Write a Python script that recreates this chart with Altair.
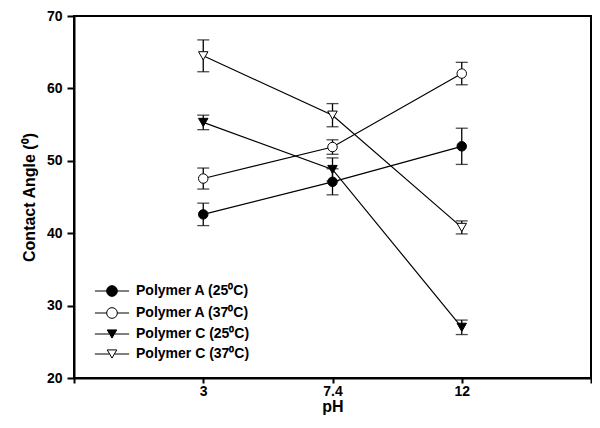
import altair as alt
import pandas as pd

# ---- data ----
ph_labels = ["3", "7.4", "12"]
series_names = ["Polymer A (25⁰C)", "Polymer A (37⁰C)", "Polymer C (25⁰C)", "Polymer C (37⁰C)"]
polymer_a_25 = [42.6, 47.1, 52.0]
polymer_a_25_err = [1.55, 1.8, 2.5]
polymer_a_37 = [47.55, 51.9, 62.05]
polymer_a_37_err = [1.45, 1.0, 1.55]
polymer_c_25 = [55.3, 48.8, 27.0]
polymer_c_25_err = [1.0, 1.6, 1.0]
polymer_c_37 = [64.5, 56.3, 40.8]
polymer_c_37_err = [2.2, 1.6, 0.9]
marker_shapes = ["circle", "circle", "triangle-down", "triangle-down"]
marker_fills = ["black", "white", "black", "white"]
marker_strokes = ["black", "black", "black", "black"]

values = [polymer_a_25, polymer_a_37, polymer_c_25, polymer_c_37]
errors = [polymer_a_25_err, polymer_a_37_err, polymer_c_25_err, polymer_c_37_err]
rows = []
for name, vals, errs in zip(series_names, values, errors):
    for i, (v, e) in enumerate(zip(vals, errs)):
        rows.append({"series": name, "pos": i + 1, "angle": v, "lo": v - e, "hi": v + e})
df = pd.DataFrame(rows)

font = "Liberation Sans"
label_list = ", ".join(["''"] + [f"'{p}'" for p in ph_labels] + ["''"])

x_enc = alt.X(
    "pos:Q",
    scale=alt.Scale(domain=[0, len(ph_labels) + 1], nice=False, zero=False),
    axis=alt.Axis(values=list(range(len(ph_labels) + 2)), labelExpr=f"[{label_list}][datum.value]",
                  title="pH", tickSize=5, labelPadding=1, titlePadding=0),
)
y_axis = alt.Axis(values=[20, 30, 40, 50, 60, 70], title="Contact Angle (⁰)", tickSize=7,
                  labelPadding=5, titlePadding=9)
y_scale = alt.Scale(domain=[20, 70], nice=False, zero=False)

base = alt.Chart(df)

lines = base.mark_line(color="black", strokeWidth=1.2).encode(
    x=x_enc, y=alt.Y("angle:Q", scale=y_scale, axis=y_axis), detail="series:N"
)
rules = base.mark_rule(color="black", strokeWidth=1.3).encode(
    x=x_enc, y=alt.Y("lo:Q", scale=y_scale, axis=y_axis), y2="hi:Q"
)
caps_lo = base.mark_tick(orient="horizontal", size=12, thickness=1.3, color="black").encode(
    x=x_enc, y=alt.Y("lo:Q", scale=y_scale, axis=y_axis)
)
caps_hi = base.mark_tick(orient="horizontal", size=12, thickness=1.3, color="black").encode(
    x=x_enc, y=alt.Y("hi:Q", scale=y_scale, axis=y_axis)
)

points = base.mark_point(filled=True, size=90, stroke="black", strokeWidth=1, opacity=1).encode(
    x=x_enc,
    y=alt.Y("angle:Q", scale=y_scale, axis=y_axis),
    shape=alt.Shape("series:N", scale=alt.Scale(domain=series_names, range=marker_shapes), legend=None),
    fill=alt.Fill("series:N", scale=alt.Scale(domain=series_names, range=marker_fills), legend=None),
)

# legend symbols: marker with a line through it (unit coordinates of a Vega custom symbol)
circle_path = "M-3.6,0H-1.128M1.128,0H3.6M1.128,0A1.128,1.128,0,1,1,-1.128,0A1.128,1.128,0,1,1,1.128,0Z"
tri_path = "M-3.6,0H-0.5M0.5,0H3.6M0,0.866L-1,-0.866L1,-0.866Z"
legend_shapes = [circle_path, circle_path, tri_path, tri_path]

legend = alt.Legend(
    title=None, orient="none", legendX=31, legendY=268, padding=0,
    labelFont=font, labelFontSize=14, labelFontWeight="bold", labelColor="black",
    symbolSize=90, symbolStrokeWidth=1, symbolOpacity=1,
    labelOffset=17, rowPadding=6,
)

legend_layer = base.transform_filter("false").mark_point(
    filled=True, size=90, strokeWidth=1, opacity=1
).encode(
    x=x_enc,
    y=alt.Y("angle:Q", scale=y_scale, axis=y_axis),
    shape=alt.Shape("series:N", scale=alt.Scale(domain=series_names, range=legend_shapes), legend=legend),
    fill=alt.Fill("series:N", scale=alt.Scale(domain=series_names, range=marker_fills), legend=legend),
    stroke=alt.Stroke("series:N", scale=alt.Scale(domain=series_names, range=marker_strokes), legend=legend),
)

chart = (
    alt.layer(lines, rules, caps_lo, caps_hi, points, legend_layer)
    .resolve_scale(shape="independent", fill="independent", stroke="independent")
    .properties(
        width=517, height=362,
        autosize=alt.AutoSizeParams(type="none"),
        padding={"left": 66, "top": 8, "right": 1, "bottom": 40},
    )
    .configure_view(stroke="black", strokeWidth=2)
    .configure_axis(
        domainColor="black", domainWidth=2, tickColor="black", tickWidth=2, grid=False,
        labelFont=font, labelFontSize=14, labelFontWeight="bold", labelColor="black",
        titleFont=font, titleFontSize=16, titleFontWeight="bold", titleColor="black",
    )
)

chart.save("out.html", embed_options={"renderer": "svg", "actions": False})
